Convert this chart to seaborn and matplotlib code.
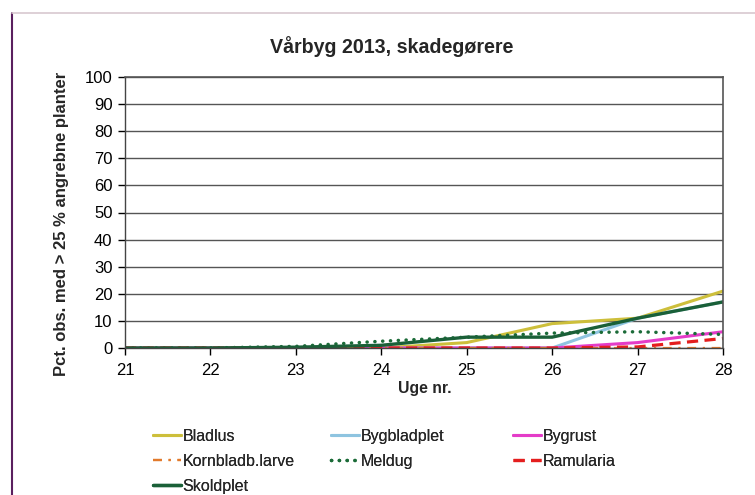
import matplotlib
matplotlib.use("Agg")
import matplotlib.pyplot as plt
import seaborn as sns
from matplotlib.lines import Line2D

weeks = [21, 22, 23, 24, 25, 26, 27, 28]
bladlus = [0, 0, 0, 0, 2, 9, 11, 21]
bygbladplet = [0, 0, 0, 0, 0, 0, 11, 17]
bygrust = [0, 0, 0, 0, 0, 0, 2, 6]
kornbladb = [0, 0, 0, 0, 0, 0, 0, 0]
meldug = [0, 0, 0.6, 2.5, 4, 5.5, 6, 5]
ramularia = [0, 0, 0, 0, 0, 0, 0.4, 3.5]
skoldplet = [0, 0, 0.3, 1, 4, 4, 11, 17]

names = ["Bladlus", "Bygbladplet", "Bygrust", "Kornbladb.larve", "Meldug", "Ramularia", "Skoldplet"]
series = [bladlus, bygbladplet, bygrust, kornbladb, meldug, ramularia, skoldplet]
colors = ["#CDBF3B", "#8EC4E0", "#E43CC8", "#E27A2C", "#1B6B38", "#E41E1E", "#1A6038"]
styles = ["-", "-", "-", (0, (4, 3, 1, 3)), (0, (0.05, 2.2)), (0, (3.5, 2)), "-"]
widths = [2.2, 2.2, 2.2, 1.6, 2.5, 2.3, 2.4]

sns.set_theme(style="white")
plt.rcParams['font.family'] = ['Liberation Sans', 'DejaVu Sans']

fig = plt.figure(figsize=(7.55, 4.95), dpi=100)
ax = fig.add_axes([125/755, 1-348/495, (723-125)/755, (348-77)/495])

for name, vals, c, ls, lw in zip(names, series, colors, styles, widths):
    sns.lineplot(x=weeks, y=vals, ax=ax, color=c, linewidth=lw, label=name, legend=False)
    ln = ax.lines[-1]
    ln.set_linestyle(ls)
    if name == "Meldug":
        ln.set_dash_capstyle("round")

ax.set_xlim(21, 28)
ax.set_ylim(0, 100)
ax.set_xticks(weeks)
ax.set_yticks(range(0, 101, 10))
ax.tick_params(axis="both", labelsize=12, colors="#000000", length=5, width=1, direction="out",
               bottom=True, left=True)
ax.tick_params(axis="x", pad=6)
ax.tick_params(axis="y", pad=4)
ax.yaxis.grid(True, color="#555555", linewidth=1)
ax.set_axisbelow(True)
for s in ["left", "bottom"]:
    ax.spines[s].set_color("#444444")
    ax.spines[s].set_linewidth(1)
for s in ["right", "top"]:
    ax.spines[s].set_color("#555555")
    ax.spines[s].set_linewidth(1.2)
ax.set_xlabel("")
ax.set_ylabel("")

fig.text(392/755, 1-47/495, "Vårbyg 2013, skadegørere", ha="center", va="center",
         fontsize=14.1, fontweight="bold")
fig.text(425/755, 1-389/495, "Uge nr.", ha="center", va="center", fontsize=11.3, fontweight="bold")
fig.text(62/755, 1-224/495, "Pct. obs. med > 25 % angrebne planter", ha="center", va="center",
         rotation=90, fontsize=12, fontweight="bold")

handles = {}
for n, c, ls, lw in zip(names, colors, styles, widths):
    h = Line2D([0], [0], color=c, linestyle=ls, linewidth=lw)
    if n == "Meldug":
        h.set_dash_capstyle("round")
    handles[n] = h

columns = [(153, ["Bladlus", "Kornbladb.larve", "Skoldplet"]),
           (331, ["Bygbladplet", "Meldug"]),
           (513, ["Bygrust", "Ramularia"])]
for x0, col in columns:
    leg = fig.legend([handles[n] for n in col], col, loc="upper left",
                     bbox_to_anchor=(x0/755, 1-429/495), ncol=1,
                     frameon=False, fontsize=11.5, handlelength=1.75, handletextpad=0.1,
                     labelspacing=0.62, borderaxespad=0, borderpad=0)
    fig.add_artist(leg)

fig.add_artist(Line2D([12/755, 12/755], [0, 1-13/495], color="#5A1F5E", linewidth=1.5,
                      transform=fig.transFigure))
fig.add_artist(Line2D([12/755, 1], [1-13/495, 1-13/495], color="#D8C8D0", linewidth=1.2,
                      transform=fig.transFigure))

fig.savefig("out.png", dpi=100)
